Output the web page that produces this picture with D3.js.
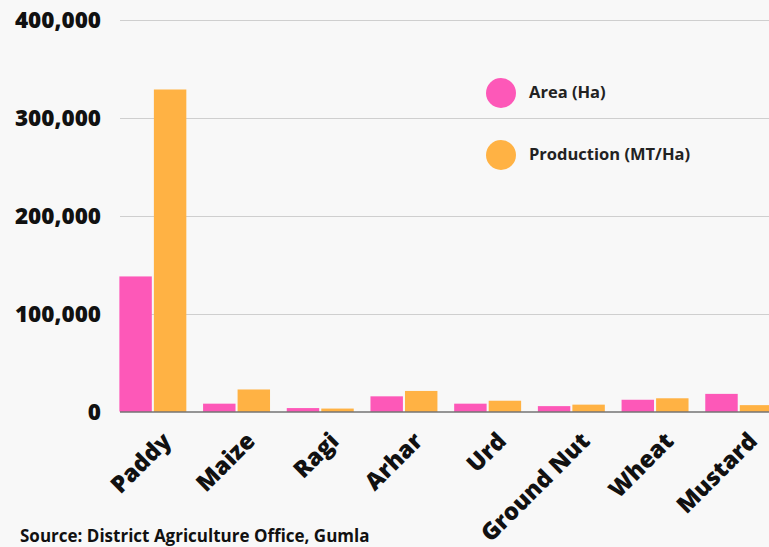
<!DOCTYPE html>
<html><head><meta charset="utf-8">
<script src="https://cdn.jsdelivr.net/npm/d3@7"></script>
<style>
html,body{margin:0;padding:0;background:#f8f8f8;overflow:hidden;}
text{font-family:"Open Sans",Lato,sans-serif;}
</style></head>
<body>
<svg id="c" width="769" height="547"></svg>
<script>
const categories = ["Paddy","Maize","Ragi","Arhar","Urd","Ground Nut","Wheat","Mustard"];
const areaHa = [138000, 8000, 3500, 15500, 8000, 5500, 12000, 18000];
const productionMT = [329000, 22500, 3000, 21000, 11000, 7000, 13500, 6500];
const seriesNames = ["Area (Ha)","Production (MT/Ha)"];
const seriesColors = ["#fd58b8","#ffb244"];
const yTicks = [0,100000,200000,300000,400000];

const svg = d3.select("#c");
const W = 769, H = 547;
const x0 = 111, plotRight = 780.6, yTop = 20, yBase = 411.5;

const x = d3.scaleBand().domain(categories).range([x0, plotRight]).paddingInner(0.2).paddingOuter(0.1);
const xs = d3.scaleBand().domain([0,1]).range([0, x.bandwidth()]).paddingInner(0.06);
const y = d3.scaleLinear().domain([0,400000]).range([yBase, yTop]);

// gridlines
svg.append("g").selectAll("line").data(yTicks.slice(1)).join("line")
  .attr("x1",120).attr("x2",W).attr("y1",d=>Math.round(y(d))+0.5).attr("y2",d=>Math.round(y(d))+0.5)
  .attr("stroke","#cfcfcf").attr("stroke-width",1);

// y labels
svg.append("g").selectAll("text").data(yTicks).join("text")
  .attr("x",101).attr("y",d=>y(d)+8).attr("text-anchor","end")
  .attr("font-size",22.5).attr("font-weight",800).attr("fill","#111")
  .text(d=>d3.format(",")(d));

// bars
const data = categories.map((c,i)=>({c, v:[areaHa[i], productionMT[i]]}));
const g = svg.append("g");
data.forEach(d=>{
  d.v.forEach((v,j)=>{
    g.append("rect")
      .attr("x", x(d.c)+xs(j)).attr("width", xs.bandwidth())
      .attr("y", y(v)).attr("height", yBase - y(v))
      .attr("fill", seriesColors[j]);
  });
});

// baseline
svg.append("line").attr("x1",120).attr("x2",W).attr("y1",yBase+0.5).attr("y2",yBase+0.5)
  .attr("stroke","#333").attr("stroke-width",1.2);

// x labels
svg.append("g").selectAll("text").data(categories).join("text")
  .attr("transform", d=>`translate(${x(d)+x.bandwidth()/2+20},${yBase+31}) rotate(-45)`)
  .attr("text-anchor","end").attr("font-size",23.5).attr("font-weight",800).attr("fill","#111")
  .text(d=>d);

// legend
const leg = svg.append("g");
seriesNames.forEach((n,i)=>{
  const cy = 93 + i*62;
  leg.append("circle").attr("cx",501).attr("cy",cy).attr("r",15).attr("fill",seriesColors[i]);
  leg.append("text").attr("x",529).attr("y",cy+5).attr("font-size",16.5).attr("font-weight",700)
    .attr("fill","#222").text(n);
});

// source
svg.append("text").attr("x",20).attr("y",542).attr("font-size",17).attr("font-weight",700)
  .attr("fill","#111").text("Source: District Agriculture Office, Gumla");
</script>
</body></html>
